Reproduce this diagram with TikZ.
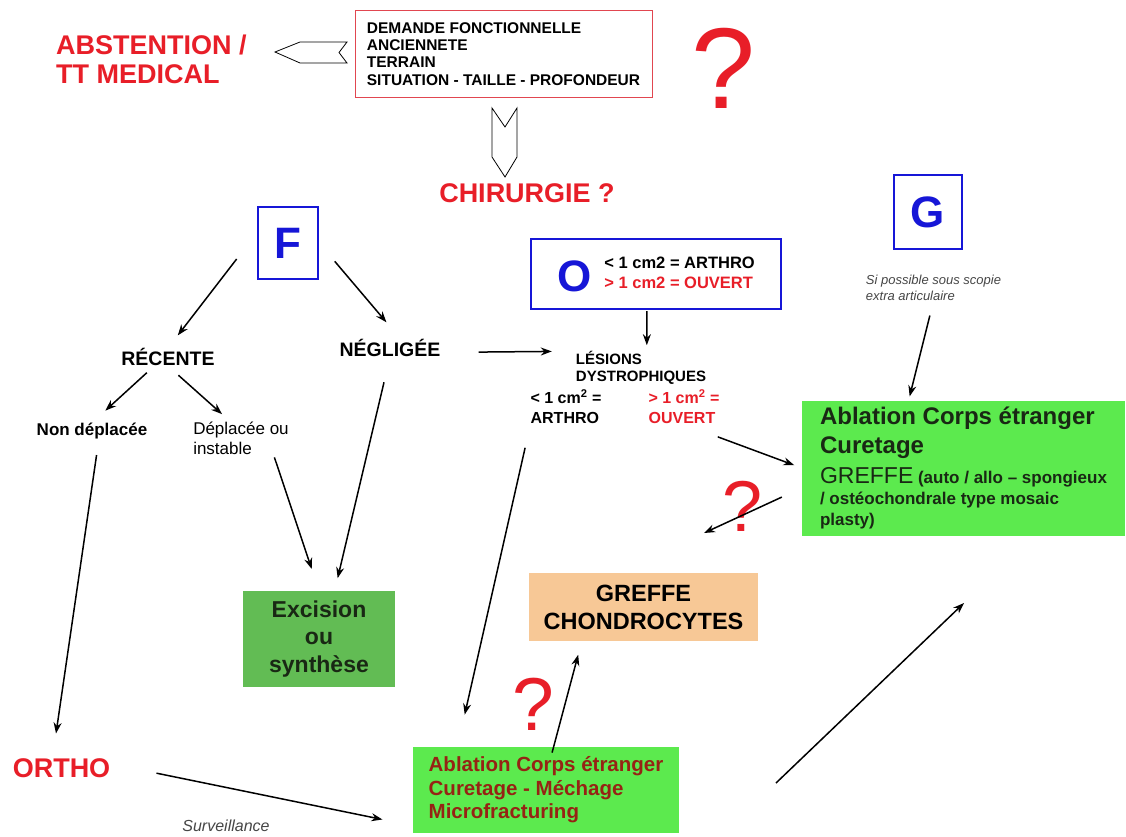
\documentclass[tikz,border=0pt]{standalone}
\usepackage{fontspec}
\setmainfont{Liberation Sans}
\usetikzlibrary{arrows.meta, positioning}
\definecolor{redq}{RGB}{232,30,40}
\definecolor{blueq}{RGB}{22,22,215}
\definecolor{critred}{RGB}{225,70,80}
\definecolor{greenD}{RGB}{98,188,84}
\definecolor{greenB}{RGB}{92,234,78}
\definecolor{peach}{RGB}{247,200,150}
\definecolor{darkq}{RGB}{25,40,20}
\definecolor{brownq}{RGB}{150,35,20}
\definecolor{grayq}{RGB}{70,70,70}

\begin{document}
\begin{tikzpicture}[x=1pt, y=-1pt,
    every node/.append style = {inner sep=0pt},
    redlbl/.style = {text=redq, align=left, font=\fontsize{27}{29}\selectfont\bfseries},
    letterbox/.style = {draw=blueq, line width=2.4pt, text=blueq, font=\fontsize{44}{44}\selectfont\bfseries},
    obox/.style = {draw=blueq, line width=2.4pt, minimum width=250pt, minimum height=70pt, font=\fontsize{16.5}{20}\selectfont\bfseries},
    critbox/.style = {draw=critred, line width=0.8pt, minimum width=297pt, minimum height=87pt, align=left, font=\fontsize{15.5}{17.2}\selectfont\bfseries},
    branch/.style = {font=\fontsize{19.5}{22}\selectfont\bfseries},
    subbold/.style = {font=\fontsize{17}{20}\selectfont\bfseries},
    subreg/.style = {align=left, font=\fontsize{17}{20}\selectfont},
    lesion/.style = {align=left, font=\fontsize{15}{17}\selectfont\bfseries},
    cmline/.style = {align=left, font=\fontsize{16}{20}\selectfont\bfseries},
    gnotestyle/.style = {align=left, text=grayq, font=\fontsize{13}{16}\selectfont\itshape},
    greenbox/.style = {fill=greenB},
    qmark/.style = {text=redq},
    arr/.style = {-{Stealth[length=11pt,width=8pt]}, line width=1.5pt},
    hollow/.style = {draw, line width=0.8pt, fill=white}
  ]
  \fill[white] (0,0) rectangle (1126,836);
  \useasboundingbox (0,0) rectangle (1126,836);

  % criteria and the first choice
  \node[critbox] (crit) at (503.5,54)
    {DEMANDE FONCTIONNELLE\\ANCIENNETE\\TERRAIN\\SITUATION - TAILLE - PROFONDEUR};
  \node[redlbl, anchor=west] (abst) at (56,59) {ABSTENTION /\\TT MEDICAL};
  \node[redlbl] (chir) at (527,193) {CHIRURGIE ?};
  \node[qmark, font=\fontsize{115}{115}\selectfont] (qtop) at (723,68) {?};
  \draw[hollow] (347,42) -- (300,42) -- (275,52) -- (300,63) -- (347,63) -- (339,52.5) -- cycle;
  \draw[hollow] (492,108) -- (505,127) -- (517,108) -- (517,157) -- (505,177) -- (492,157) -- cycle;

  % F branch
  \node[letterbox, minimum width=60pt, minimum height=72pt] (F) at (288,243) {F};
  \node[branch] (rec) at (168,357) {RÉCENTE};
  \node[branch] (neg) at (390,348) {NÉGLIGÉE};
  \node[subbold] (nondep) at (92,431) {Non déplacée};
  \node[subreg] (dep) at (241,438) {Déplacée ou\\instable};
  \node[fill=greenD, minimum width=152pt, minimum height=96pt, align=center, text=darkq,
    font=\fontsize{23}{27.5}\selectfont\bfseries] (exc) at (319,639) {Excision\\ou\\synthèse};
  \node[redlbl] (ortho) at (61.5,768) {ORTHO};
  \node[text=grayq, font=\fontsize{16}{18}\selectfont\itshape] (surv) at (226,826) {Surveillance};

  % O branch
  \node[obox] (O) at (656,274)
    {\raisebox{-13pt}{\fontsize{44}{44}\selectfont\color{blueq}O}\hspace{13pt}%
     \begin{tabular}{@{}l@{}}< 1 cm2 = ARTHRO\\\textcolor{redq}{> 1 cm2 = OUVERT}\end{tabular}\hspace{10pt}};
  \node[lesion] (les) at (641,368) {LÉSIONS\\DYSTROPHIQUES};
  \node[cmline] (lt) at (566,407) {< 1 cm\textsuperscript{2} =\\ARTHRO};
  \node[cmline, text=redq] (gt) at (684,407) {> 1 cm\textsuperscript{2} =\\OUVERT};
  \node[fill=peach, minimum width=229pt, minimum height=68pt, align=center,
    font=\fontsize{23.5}{28}\selectfont\bfseries] (gref) at (643.5,607) {GREFFE\\CHONDROCYTES};
  \node[greenbox, minimum width=266pt, minimum height=86pt, align=left, text=brownq,
    font=\fontsize{20.5}{23.5}\selectfont\bfseries] (abl) at (546,790)
    {Ablation Corps étranger\\Curetage - Méchage\\Microfracturing};
  \node[qmark, font=\fontsize{75}{75}\selectfont] (qlow) at (533,704) {?};

  % G branch
  \node[letterbox, minimum width=68pt, minimum height=74pt] (G) at (928,212) {G};
  \node[gnotestyle] (gnote) at (933.5,288) {Si possible sous scopie\\extra articulaire};
  \node[greenbox, minimum width=323pt, minimum height=135pt, align=left, text=darkq,
    font=\fontsize{17}{21}\selectfont\bfseries] (abl2) at (963.5,468)
    {{\fontsize{24}{28}\selectfont Ablation Corps étranger}\\[6pt]
     {\fontsize{24}{28}\selectfont Curetage}\\[8pt]
     {\fontsize{23}{28}\selectfont\mdseries GREFFE} (auto / allo – spongieux\\
     / ostéochondrale type mosaic\\plasty)};
  \node[qmark, font=\fontsize{72}{72}\selectfont] (qmid) at (743,506) {?};

  \coordinate (qend) at (704,533);
  \coordinate (rise0) at (776,783);
  \coordinate (rise1) at (964,603);

  % connectors
  \draw[arr, shorten <=33pt, shorten >=16pt] (F.162) -- (rec.north);
  \draw[arr, shorten <=24pt, shorten >=22pt] (F.east) -- (neg.40);
  \draw[arr, shorten <=10pt, shorten >=18pt] (rec.213) -- (nondep.north);
  \draw[arr, shorten <=14pt, shorten >=11pt] (rec.south) -- (dep.123);
  \draw[arr, shorten <=16pt, shorten >=25pt] (nondep.-50) -- (ortho.133);
  \draw[arr, shorten <=3pt, shorten >=23pt] (dep.-27) -- (exc.north);
  \draw[arr, shorten <=26pt, shorten >=13pt] (neg.south) -- (exc.72);
  \draw[arr, shorten <=38pt, shorten >=24pt] (neg.-5) -- (les.north west);
  \draw[arr, shorten <=1pt, shorten >=6pt] (O.-104) -- (les.71);
  \draw[arr, shorten <=24pt, shorten >=33pt] (lt.south west) -- (abl.154);
  \draw[arr, shorten <=36pt, shorten >=8pt] (gt.south) -- (abl2.west);
  \draw[arr, shorten <=15pt, shorten >=4pt] (gnote.south) -- (abl2.129);
  \draw[arr, shorten <=22pt] (abl2.187) -- (qend);
  \draw[arr, shorten <=-6pt, shorten >=14pt] (abl.80) -- (gref.209);
  \draw[arr, shorten <=47pt, shorten >=31pt] (ortho.5) -- (abl.195);
  \draw[arr] (rise0) -- (rise1);
\end{tikzpicture}
\end{document}
